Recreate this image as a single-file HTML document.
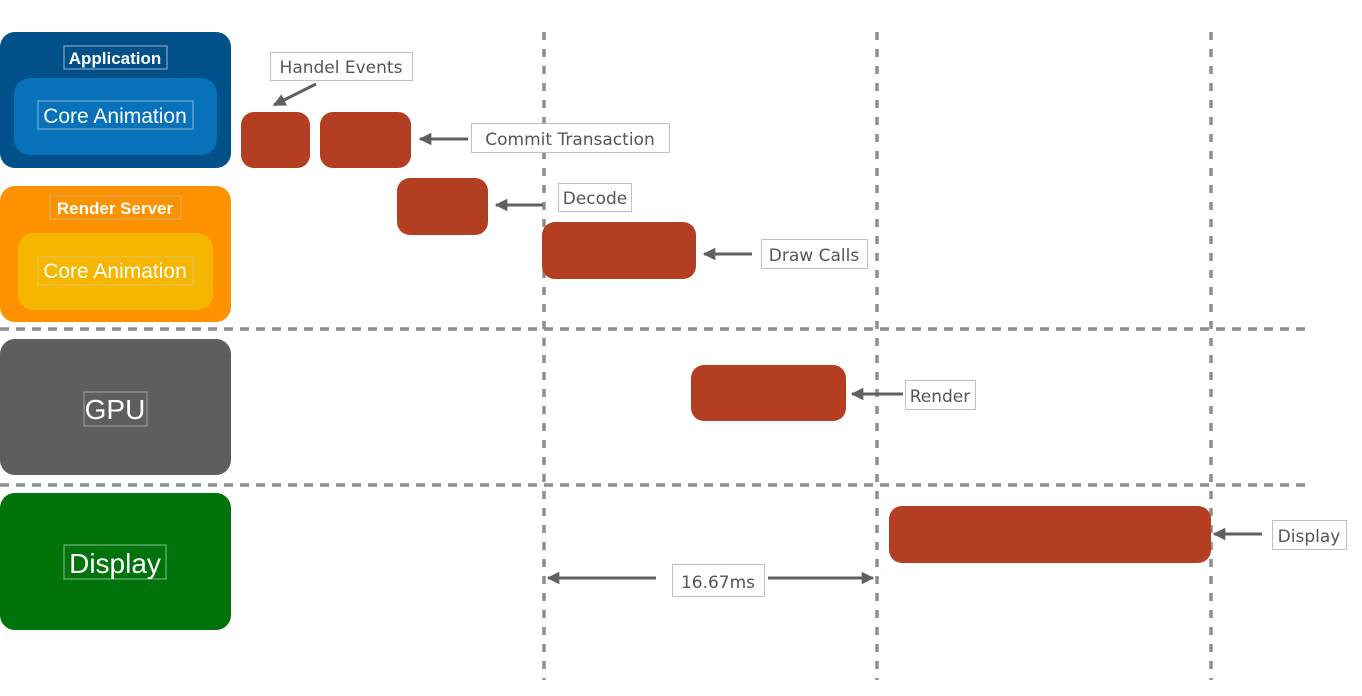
<!DOCTYPE html>
<html><head><meta charset="utf-8">
<style>
html,body{margin:0;padding:0;background:#fff;}
svg{display:block;}
.w{font-family:"Liberation Sans",Arial,sans-serif;fill:#fff;font-weight:bold;}
.l{font-family:"DejaVu Sans","Liberation Sans",sans-serif;fill:#555;font-size:17px;}
</style></head>
<body>
<svg width="1362" height="696" viewBox="0 0 1362 696" xmlns="http://www.w3.org/2000/svg">
<defs>
<marker id="ah" viewBox="0 0 10 10" refX="9" refY="5" markerWidth="4.2" markerHeight="4.2" orient="auto-start-reverse">
<path d="M0,0 L10,5 L0,10 z" fill="#606060"/>
</marker>
</defs>
<!-- dashed grid -->
<g stroke="#8e8e8e" stroke-width="3.5" stroke-dasharray="8,9" fill="none">
<line x1="544" y1="32" x2="544" y2="680"/>
<line x1="877" y1="32" x2="877" y2="680"/>
<line x1="1211" y1="32" x2="1211" y2="680"/>
</g>
<g stroke="#8e8e8e" stroke-width="3.5" stroke-dasharray="9,7" fill="none">
<line x1="0" y1="329" x2="1305" y2="329"/>
<line x1="0" y1="485" x2="1305" y2="485"/>
</g>
<!-- left boxes -->
<rect x="0" y="32" width="231" height="136" rx="15" fill="#02508a"/>
<rect x="14" y="78" width="203" height="77" rx="16" fill="#0772b9"/>
<rect x="64" y="46" width="103" height="23" fill="none" stroke="#9fb6cc" stroke-width="1"/>
<text x="115" y="64" class="w" font-size="17" text-anchor="middle">Application</text>
<rect x="38" y="101" width="155" height="28" fill="none" stroke="#8ab5d6" stroke-width="1"/>
<text x="115" y="123" class="w" font-size="21" font-weight="normal" style="font-weight:normal" text-anchor="middle">Core Animation</text>

<rect x="0" y="186" width="231" height="136" rx="15" fill="#fd9201"/>
<rect x="18" y="233" width="195" height="77" rx="16" fill="#f6b600"/>
<rect x="50" y="196" width="131" height="23" fill="none" stroke="#d9b070" stroke-width="1"/>
<text x="115" y="214" class="w" font-size="17" text-anchor="middle">Render Server</text>
<rect x="38" y="257" width="155" height="28" fill="none" stroke="#e0c060" stroke-width="1"/>
<text x="115" y="278" class="w" font-size="21" style="font-weight:normal" text-anchor="middle">Core Animation</text>

<rect x="0" y="339" width="231" height="136" rx="15" fill="#5e5e5e"/>
<rect x="84" y="392" width="63" height="34" fill="none" stroke="#a0a0a0" stroke-width="1"/>
<text x="115" y="419" class="w" font-size="28" style="font-weight:normal" text-anchor="middle">GPU</text>

<rect x="0" y="493" width="231" height="137" rx="15" fill="#01730b"/>
<rect x="64" y="545" width="102" height="34" fill="none" stroke="#8cc090" stroke-width="1"/>
<text x="115" y="573" class="w" font-size="28" style="font-weight:normal" text-anchor="middle">Display</text>

<!-- red blocks -->
<g fill="#b43e22">
<rect x="241" y="112" width="69" height="56" rx="13"/>
<rect x="320" y="112" width="91" height="56" rx="13"/>
<rect x="397" y="178" width="91" height="57" rx="13"/>
<rect x="542" y="222" width="154" height="57" rx="13"/>
<rect x="691" y="365" width="155" height="56" rx="13"/>
<rect x="889" y="506" width="322" height="57" rx="13"/>
</g>
<!-- arrows -->
<g stroke="#606060" stroke-width="3" fill="none" marker-end="url(#ah)">
<line x1="316" y1="84" x2="274" y2="105"/>
<line x1="468" y1="139" x2="420" y2="139"/>
<line x1="543" y1="205" x2="496" y2="205"/>
<line x1="752" y1="254" x2="704" y2="254"/>
<line x1="903" y1="394" x2="852" y2="394"/>
<line x1="1262" y1="534" x2="1214" y2="534"/>
<line x1="656" y1="578" x2="548" y2="578"/>
<line x1="768" y1="578" x2="873" y2="578"/>
</g>
<!-- labels -->
<g fill="#fff" stroke="#c0c0c0" stroke-width="1">
<rect x="270.5" y="52.5" width="142" height="28"/>
<rect x="471.5" y="123.5" width="198" height="29"/>
<rect x="558.5" y="183.5" width="73" height="28"/>
<rect x="761.5" y="239.5" width="106" height="29"/>
<rect x="905.5" y="380.5" width="70" height="29"/>
<rect x="1272.5" y="520.5" width="74" height="29"/>
<rect x="672.5" y="564.5" width="92" height="32"/>
</g>
<text x="341" y="73" class="l" text-anchor="middle">Handel Events</text>
<text x="570" y="145" class="l" text-anchor="middle">Commit Transaction</text>
<text x="595" y="204" class="l" text-anchor="middle">Decode</text>
<text x="814" y="261" class="l" text-anchor="middle">Draw Calls</text>
<text x="940" y="402" class="l" text-anchor="middle">Render</text>
<text x="1309" y="542" class="l" text-anchor="middle">Display</text>
<text x="718" y="588" class="l" font-size="20" text-anchor="middle">16.67ms</text>
</svg>
</body></html>
